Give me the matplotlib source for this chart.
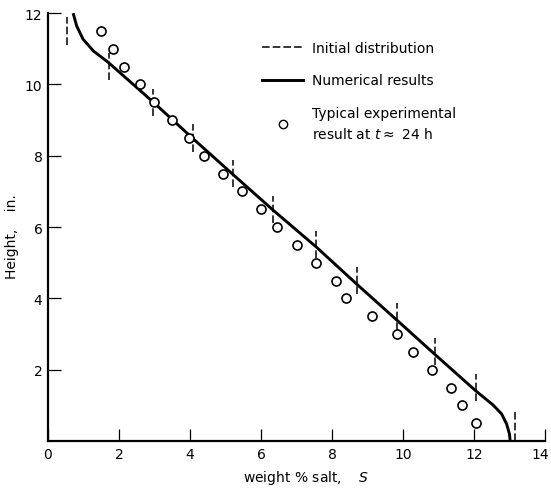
import numpy as np
import matplotlib.pyplot as plt
import matplotlib.transforms as mtransforms
from matplotlib.lines import Line2D

# initial (layered) distribution: layer bottom height, layer top height, weight % salt
INIT_BOTTOM = [0, 1, 2, 3, 4, 5, 6, 7, 8, 9, 10, 11]
INIT_TOP    = [1, 2, 3, 4, 5, 6, 7, 8, 9, 10, 11, 12]
INIT_S      = [13.15, 12.05, 10.9, 9.82, 8.7, 7.55, 6.35, 5.22, 4.1, 2.95, 1.73, 0.55]

# numerical results
NUM_S = [0.71, 0.81, 0.99, 1.28, 1.70, 2.95, 4.10, 5.22, 6.35, 7.55, 8.70, 9.82,
         10.9, 12.05, 12.54, 12.78, 12.92, 13.0, 13.02]
NUM_H = [12.0, 11.64, 11.27, 10.94, 10.62, 9.52, 8.47, 7.47, 6.47, 5.45, 4.40, 3.40,
         2.43, 1.41, 1.01, 0.76, 0.48, 0.2, 0.0]

# experimental result at t ~ 24 h
EXP_H = [11.5, 11.0, 10.5, 10.0, 9.5, 9.0, 8.5, 8.0, 7.5, 7.0, 6.5, 6.0,
         5.5, 5.0, 4.5, 4.0, 3.5, 3.0, 2.5, 2.0, 1.5, 1.0, 0.5]
EXP_S = [1.49, 1.82, 2.15, 2.60, 2.99, 3.50, 3.97, 4.40, 4.94, 5.48, 5.99, 6.46,
         7.02, 7.55, 8.11, 8.41, 9.13, 9.82, 10.29, 10.83, 11.34, 11.65, 12.06]

XTICKS = [0, 2, 4, 6, 8, 10, 12, 14]
YTICKS = [2, 4, 6, 8, 10, 12]

plt.rcParams["font.family"] = "DejaVu Sans"

fig = plt.figure(figsize=(5.51, 4.89), dpi=100)
ax = fig.add_axes([0.087, 0.096, 0.902, 0.875])

DASH = (0, (5, 2))

# dashed segments for each initial layer (a little shorter than the layer)
ymin = [b + 0.12 for b in INIT_BOTTOM]
ymin[0] = 0.0
ymax = [t - 0.12 for t in INIT_TOP]
ax.vlines(INIT_S, ymin, ymax, colors="black", linestyles=DASH, lw=1.1)

ax.plot(NUM_S, NUM_H, color="black", lw=2.1, solid_capstyle="butt")
ax.plot(EXP_S, EXP_H, "o", ms=6.5, mfc="white", mec="black", mew=1.2, ls="none")

ax.set_xlim(0, 14)
ax.set_ylim(0, 12)
ax.set_xticks(XTICKS)
ax.set_yticks(YTICKS)
ax.tick_params(direction="in", length=9, width=0.9, labelsize=10, pad=4)
for s in ("top", "right"):
    ax.spines[s].set_visible(False)
for s in ("left", "bottom"):
    ax.spines[s].set_linewidth(1.6)

# nudge the last x label a few px left so it stays inside the figure
last = ax.get_xticklabels()[-1]
last.set_transform(last.get_transform() +
                   mtransforms.ScaledTranslation(-0.05, 0, fig.dpi_scale_trans))

ax.set_xlabel(r"weight % salt,    $S$", fontsize=10)
ax.set_ylabel("Height,    in.", fontsize=10)
ax.xaxis.set_label_coords(0.52, -0.062)
ax.yaxis.set_label_coords(-0.058, 0.48)

handles = [
    Line2D([], [], color="black", lw=1.1, ls=DASH),
    Line2D([], [], color="black", lw=2.1),
    Line2D([], [], ls="none", marker="o", ms=6, mfc="white", mec="black", mew=1.0),
]
labels = ["Initial distribution", "Numerical results",
          "Typical experimental\nresult at $t \\approx$ 24 h"]
leg = ax.legend(handles, labels, loc="upper left", bbox_to_anchor=(0.405, 0.965),
                frameon=False, fontsize=10, handlelength=3.0, handletextpad=0.6,
                labelspacing=1.35)
leg.get_texts()[2].set_linespacing(1.5)

fig.savefig("out.png", dpi=100)
